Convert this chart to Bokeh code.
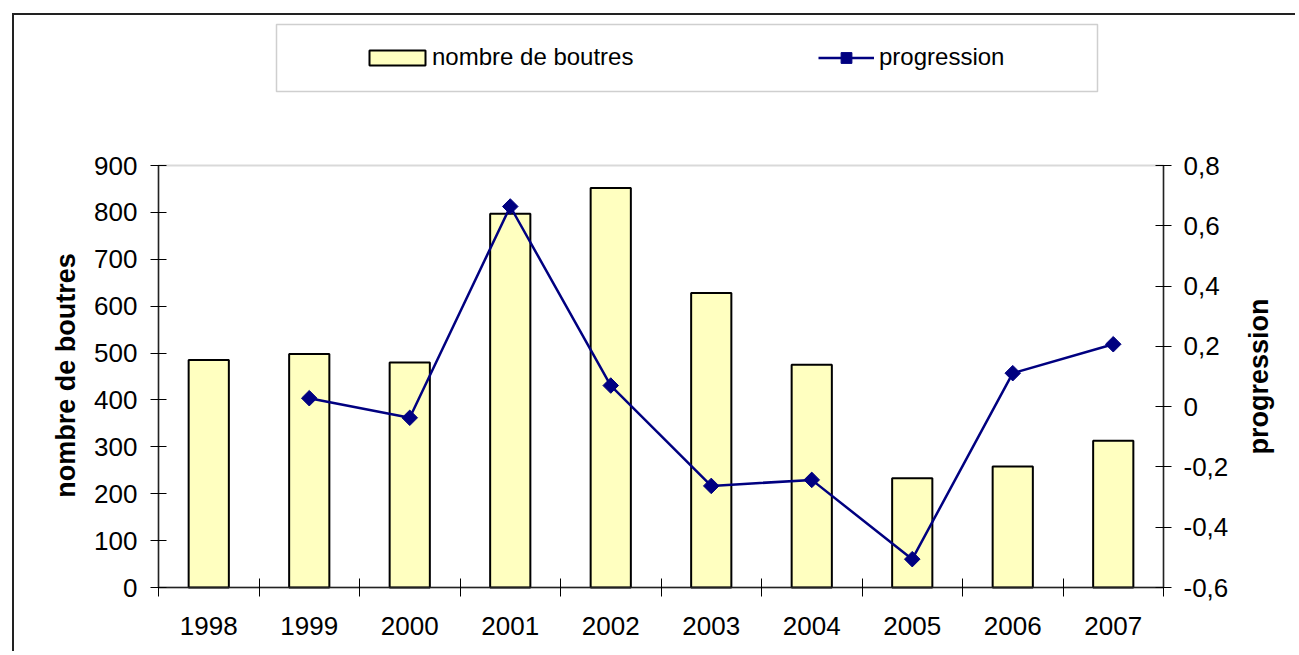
import math
import numpy as np
from bokeh.plotting import figure
from bokeh.models import (Range1d, LinearAxis, FixedTicker, CustomJSTickFormatter,
                          Legend, LegendItem, BoxAnnotation, Label)
from bokeh.embed import file_html
from bokeh.resources import INLINE

# ---- data ----
years = ["1998", "1999", "2000", "2001", "2002", "2003", "2004", "2005", "2006", "2007"]
boutres = [485, 498, 480, 797, 852, 628, 475, 233, 258, 313]
progression = [None, 0.028, -0.037, 0.664, 0.070, -0.263, -0.243, -0.506, 0.111, 0.207]
left_ticks = [0, 100, 200, 300, 400, 500, 600, 700, 800, 900]
right_ticks = [-0.6, -0.4, -0.2, 0.0, 0.2, 0.4, 0.6, 0.8]

FONT = "Liberation Sans"

# ---- layout (canvas pixels) ----
W, H = 1283, 638                 # canvas size
PA_L, PA_R = 144, 1149           # plot area left / right (from canvas left)
PA_T, PA_B = 150, 572            # plot area top / bottom (from canvas top)

x_pos = [i + 0.5 for i in range(len(years))]
x_edges = list(range(len(years) + 1))
prog = [np.nan if v is None else v for v in progression]

def span_range(v0, v1, p0, p1, total):
    """data range of the whole canvas, given that v0..v1 spans pixels p0..p1"""
    k = (v1 - v0) / (p1 - p0)
    return Range1d(v0 - p0 * k, v1 + (total - p1) * k)

l0, l1 = left_ticks[0], left_ticks[-1]
r0, r1 = right_ticks[0], right_ticks[-1]

p = figure(width=W, height=H,
           x_range=span_range(x_edges[0], x_edges[-1], PA_L, PA_R, W),
           y_range=span_range(l0, l1, H - PA_B, H - PA_T, H),
           output_backend="svg", toolbar_location=None,
           x_axis_location=None, y_axis_location=None,
           min_border=0, min_border_left=0, min_border_right=0,
           min_border_top=0, min_border_bottom=0)
p.extra_y_ranges = {"prog": span_range(r0, r1, H - PA_B, H - PA_T, H)}
p.xgrid.visible = False
p.ygrid.visible = False
p.outline_line_color = None
p.background_fill_color = "white"
p.border_fill_color = "white"
p.margin = (13, 0, 0, 12)
p.styles = {"border-left": "2px solid #222222", "border-top": "2px solid #222222"}

# plot-area border (grey, visible at the top)
p.add_layout(BoxAnnotation(left=x_edges[0], right=x_edges[-1], bottom=l0, top=l1,
                           fill_color=None, fill_alpha=0, line_color="#808080",
                           line_width=2, level="underlay"))

bars = p.vbar(x=x_pos, top=boutres, bottom=0, width=0.4,
              fill_color="#FFFFC0", line_color="black", line_width=2)
line = p.line(x_pos, prog, y_range_name="prog", line_color="#000080", line_width=2.5)
pts = p.scatter(x_pos, prog, y_range_name="prog", marker="square", angle=math.pi / 4,
                size=11, fill_color="#000080", line_color="#000080")

# x axis: labels at category centres, ticks between categories
xaxis = LinearAxis(ticker=FixedTicker(ticks=x_pos, minor_ticks=x_edges),
                   major_label_overrides={x: y for x, y in zip(x_pos, years)},
                   fixed_location=l0, bounds=(x_edges[0], x_edges[-1]))
xaxis.major_tick_line_color = None
xaxis.major_tick_out = 0
xaxis.major_tick_in = 0
xaxis.minor_tick_line_color = "black"
xaxis.minor_tick_in = 9
xaxis.minor_tick_out = 9
xaxis.axis_line_color = "#222222"
xaxis.axis_line_width = 1.5
xaxis.major_label_standoff = 20
xaxis.major_label_text_font = FONT
xaxis.major_label_text_font_size = "26px"
xaxis.major_label_text_color = "black"
p.add_layout(xaxis, "below")

laxis = LinearAxis(ticker=FixedTicker(ticks=left_ticks, minor_ticks=[]),
                   fixed_location=x_edges[0], bounds=(l0, l1))
laxis.major_tick_in = 8
laxis.major_tick_out = 8
laxis.major_tick_line_color = "black"
laxis.minor_tick_line_color = None
laxis.axis_line_color = "#222222"
laxis.axis_line_width = 1.5
laxis.major_label_standoff = 13
laxis.major_label_text_font = FONT
laxis.major_label_text_font_size = "26px"
laxis.major_label_text_color = "black"
p.add_layout(laxis, "left")

raxis = LinearAxis(y_range_name="prog",
                   ticker=FixedTicker(ticks=right_ticks, minor_ticks=[]),
                   fixed_location=x_edges[-1], bounds=(r0, r1),
                   formatter=CustomJSTickFormatter(code="""
                       if (Math.abs(tick) < 1e-9) { return '0'; }
                       return tick.toFixed(1).replace('.', ',');
                   """))
raxis.major_tick_in = 8
raxis.major_tick_out = 8
raxis.major_tick_line_color = "black"
raxis.minor_tick_line_color = None
raxis.axis_line_color = "#222222"
raxis.axis_line_width = 1.5
raxis.major_label_standoff = 12
raxis.major_label_text_font = FONT
raxis.major_label_text_font_size = "26px"
raxis.major_label_text_color = "black"
p.add_layout(raxis, "right")

# axis titles (screen px from the canvas' bottom-left corner)
title_style = dict(text_font=FONT, text_font_size="27px", text_font_style="bold",
                   text_color="black", text_align="center", text_baseline="middle",
                   angle=math.pi / 2, x_units="screen", y_units="screen")
p.add_layout(Label(x=51, y=H - 360, text="nombre de boutres", **title_style))
p.add_layout(Label(x=1244, y=H - 361, text="progression", **title_style))

# legend frame
p.add_layout(BoxAnnotation(left=262, right=1083, bottom=H - 76, top=H - 9,
                           left_units="screen", right_units="screen",
                           bottom_units="screen", top_units="screen",
                           fill_color=None, fill_alpha=0,
                           line_color="#606060", line_width=1.5))

leg1 = Legend(items=[LegendItem(label="nombre de boutres", renderers=[bars])],
              location=(348, H - 56), orientation="horizontal",
              glyph_width=70, glyph_height=19, label_standoff=0,
              label_text_font=FONT, label_text_font_size="24px", label_text_color="black",
              padding=0, margin=0, border_line_color=None, background_fill_alpha=0)
leg2 = Legend(items=[LegendItem(label="progression", renderers=[line, pts])],
              location=(804, H - 56), orientation="horizontal",
              glyph_width=56, glyph_height=27, label_standoff=5,
              label_text_font=FONT, label_text_font_size="24px", label_text_color="black",
              padding=0, margin=0, border_line_color=None, background_fill_alpha=0)
p.add_layout(leg1)
p.add_layout(leg2)

open("out.html", "w").write(file_html(p, INLINE))
